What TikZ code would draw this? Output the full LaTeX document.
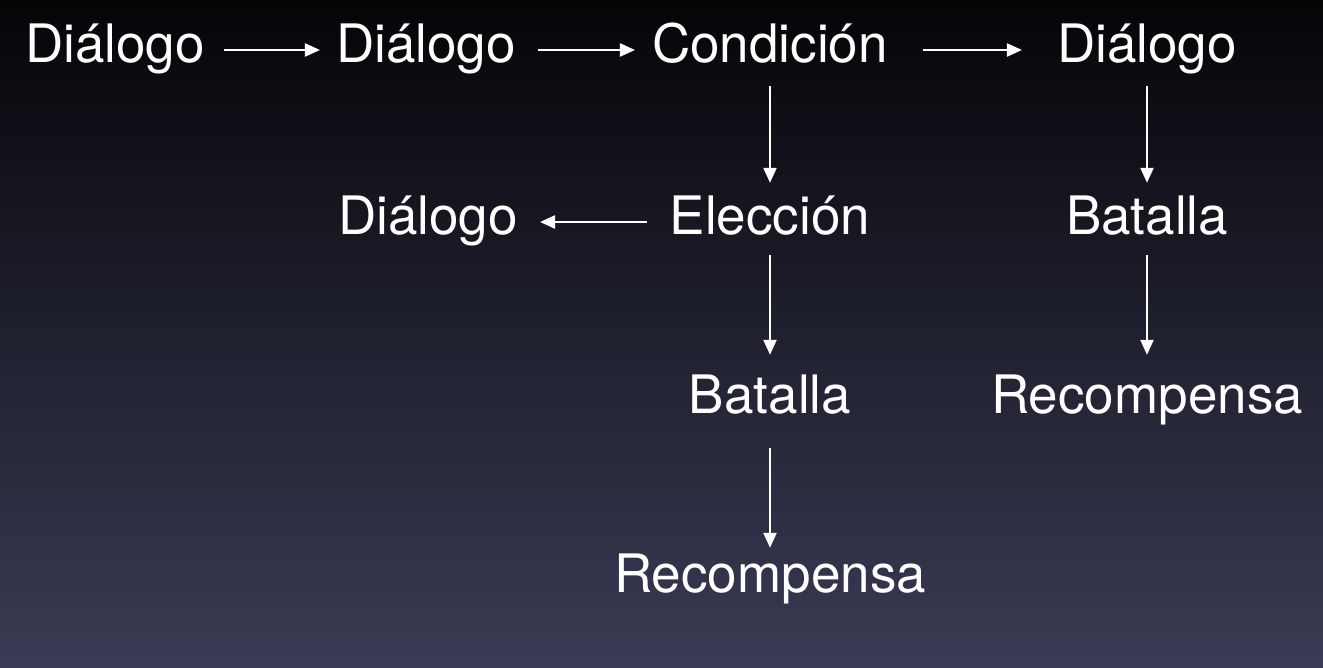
\documentclass[tikz,border=0pt]{standalone}
\usepackage{fontspec}
\setmainfont{TeX Gyre Heros}
\usetikzlibrary{arrows.meta}
\definecolor{bgtop}{HTML}{050508}
\definecolor{bgmid}{HTML}{17172D}
\definecolor{bgbot}{HTML}{3A3B55}
\begin{document}
\begin{tikzpicture}[x=1pt,y=-1pt,
  lbl/.style={anchor=base,inner sep=0pt,text height=26pt,text depth=0pt,
    text=white,font=\fontsize{53pt}{60pt}\selectfont},
  arr/.style={draw=white,line width=2.3pt,-{Triangle[length=15pt,width=13pt]}}]
\shade[top color=bgtop,middle color=bgmid,bottom color=bgbot] (0,0) rectangle (1323,668);
\useasboundingbox (0,0) rectangle (1323,668);
% row 1
\node[lbl] (d1) at (115,63) {Diálogo};
\node[lbl] (d2) at (426,63) {Diálogo};
\node[lbl] (c)  at (770,63) {Condición};
\node[lbl] (d4) at (1147,63) {Diálogo};
% row 2
\node[lbl] (d5) at (428,235) {Diálogo};
\node[lbl] (e)  at (770,235) {Elección};
\node[lbl] (b2) at (1147,235) {Batalla};
% row 3
\node[lbl] (b1) at (770,413) {Batalla};
\node[lbl] (r2) at (1147,413) {Recompensa};
% row 4
\node[lbl] (r1) at (770,592) {Recompensa};
% connectors
\draw[arr,shorten <=19pt,shorten >=16pt] (d1) -- (d2);
\draw[arr,shorten <=22pt,shorten >=17pt] (d2) -- (c);
\draw[arr,shorten <=35pt,shorten >=35pt] (c) -- (d4);
\draw[arr,shorten <=23pt,shorten >=22pt] (e) -- (d5);
\draw[arr,shorten <=23pt,shorten >=26pt] (c) -- (e);
\draw[arr,shorten <=20pt,shorten >=32pt] (e) -- (b1);
\draw[arr,shorten <=35pt,shorten >=18pt] (b1) -- (r1);
\draw[arr,shorten <=23pt,shorten >=26pt] (d4) -- (b2);
\draw[arr,shorten <=20pt,shorten >=32pt] (b2) -- (r2);
\end{tikzpicture}
\end{document}
